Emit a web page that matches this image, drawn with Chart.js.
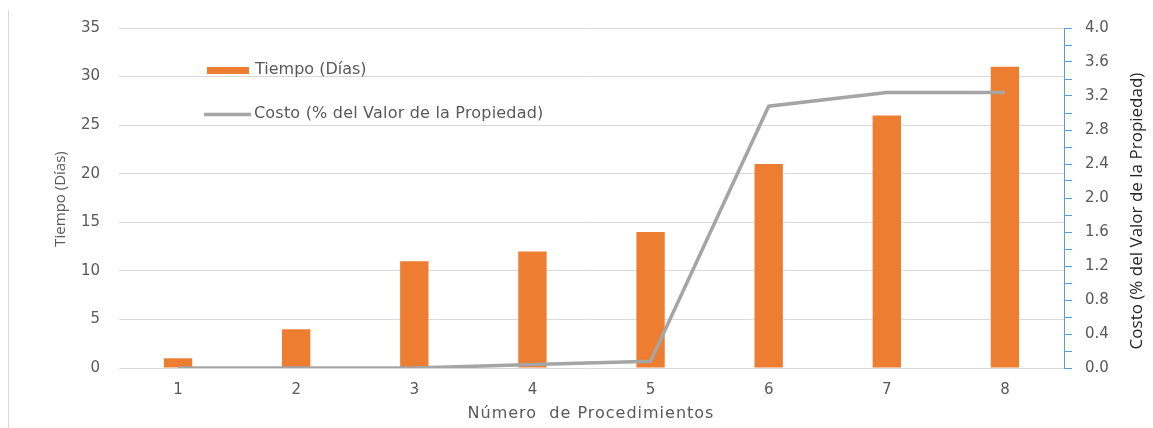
<!DOCTYPE html>
<html>
<head>
<meta charset="utf-8">
<script src="https://cdn.jsdelivr.net/npm/chart.js@4.4.1/dist/chart.umd.min.js"></script>
<style>
  html, body { margin: 0; padding: 0; background: #ffffff; }
  #wrap { position: relative; width: 1153px; height: 428px; }
</style>
</head>
<body>
<div id="wrap"><canvas id="c" width="1153" height="428"></canvas></div>
<script>
// ---- data ----
const categories = ['1', '2', '3', '4', '5', '6', '7', '8'];
const tiempoDias = [1, 4, 11, 12, 14, 21, 26, 31];
const costoPct = [0, 0, 0, 0.04, 0.08, 3.08, 3.24, 3.24];
const leftTicks = [0, 5, 10, 15, 20, 25, 30, 35];
const rightTickLabels = ['0.0', '0.4', '0.8', '1.2', '1.6', '2.0', '2.4', '2.8', '3.2', '3.6', '4.0'];
const seriesNames = ['Tiempo (Días)', 'Costo (% del Valor de la Propiedad)'];
const axisTitles = { x: 'Número  de Procedimientos', y: 'Tiempo (Días)', y1: 'Costo (% del Valor de la Propiedad)' };

const ORANGE = '#ED7D31';
const GRAY_LINE = '#A5A5A5';
const TXT = '#595959';
const GRID = '#D9D9D9';
const BLUE = '#5B9BD5';
const TICK_FONT = { family: 'DejaVu Sans', size: 15 };

const decor = {
  id: 'decor',
  beforeDraw(chart) {
    const ctx = chart.ctx;
    ctx.save();
    ctx.strokeStyle = GRID;
    ctx.lineWidth = 1;
    ctx.beginPath();
    ctx.moveTo(8.5, 10);
    ctx.lineTo(8.5, 428);
    ctx.stroke();
    ctx.restore();
  },
  afterDraw(chart) {
    const ctx = chart.ctx;
    ctx.save();
    // legend
    ctx.fillStyle = ORANGE;
    ctx.fillRect(207, 67, 42, 7);
    ctx.strokeStyle = GRAY_LINE;
    ctx.lineWidth = 3.5;
    ctx.beginPath();
    ctx.moveTo(204, 114.5);
    ctx.lineTo(251, 114.5);
    ctx.stroke();
    ctx.fillStyle = TXT;
    ctx.font = '16px "DejaVu Sans"';
    ctx.textBaseline = 'middle';
    ctx.textAlign = 'left';
    ctx.fillText(seriesNames[0], 255, 70);
    try { ctx.letterSpacing = '0.2px'; } catch (e) {}
    ctx.fillText(seriesNames[1], 254, 114);

    // x title
    ctx.font = '16px "DejaVu Sans"';
    ctx.textAlign = 'center';
    try { ctx.letterSpacing = '1px'; } catch (e) {}
    ctx.fillText(axisTitles.x, 591, 414);
    try { ctx.letterSpacing = '0px'; } catch (e) {}

    // left title
    ctx.save();
    ctx.translate(61, 199);
    ctx.rotate(-Math.PI / 2);
    ctx.font = '15px "Open Sans"';
    ctx.fillStyle = TXT;
    ctx.fillText(axisTitles.y, 0, 0);
    ctx.restore();

    // right title
    ctx.save();
    ctx.translate(1137, 211);
    ctx.rotate(-Math.PI / 2);
    ctx.font = '17px "Open Sans"';
    ctx.fillStyle = '#262626';
    ctx.fillText(axisTitles.y1, 0, 0);
    ctx.restore();

    ctx.restore();
  }
};

new Chart(document.getElementById('c'), {
  type: 'bar',
  data: {
    labels: categories,
    datasets: [
      {
        type: 'line',
        label: seriesNames[1],
        data: costoPct,
        yAxisID: 'y1',
        borderColor: GRAY_LINE,
        backgroundColor: GRAY_LINE,
        borderWidth: 3.5,
        pointRadius: 0,
        tension: 0,
        order: 0
      },
      {
        type: 'bar',
        label: seriesNames[0],
        data: tiempoDias,
        yAxisID: 'y',
        backgroundColor: ORANGE,
        borderWidth: 0,
        barPercentage: 0.24,
        categoryPercentage: 1,
        order: 1
      }
    ]
  },
  options: {
    responsive: false,
    animation: false,
    layout: { padding: { top: 22, left: 0, right: 0, bottom: 0 } },
    plugins: { legend: { display: false }, tooltip: { enabled: false } },
    scales: {
      x: {
        offset: true,
        grid: { display: false, drawTicks: false },
        border: { display: false },
        ticks: { color: TXT, font: TICK_FONT, padding: 13 },
        afterFit(s) { s.height = 60; }
      },
      y: {
        position: 'left',
        min: 0, max: 35,
        afterBuildTicks(s) { s.ticks = leftTicks.map(v => ({ value: v })); },
        grid: { color: GRID, lineWidth: 1, drawTicks: false },
        border: { display: false },
        ticks: { color: TXT, font: TICK_FONT, padding: 19 },
        afterFit(s) { s.width = 119; }
      },
      y1: {
        position: 'right',
        min: 0, max: 4,
        ticks: {
          stepSize: 0.2,
          autoSkip: false,
          color: TXT,
          font: TICK_FONT,
          padding: 13,
          callback(v) {
            const k = Math.round(v * 10);
            return k % 4 === 0 ? rightTickLabels[k / 4] : '';
          }
        },
        grid: { drawOnChartArea: false, color: BLUE, tickLength: 8, lineWidth: 1 },
        border: { display: true, color: BLUE, width: 1 },
        afterFit(s) { s.width = 89; }
      }
    }
  },
  plugins: [decor]
});
</script>
</body>
</html>
